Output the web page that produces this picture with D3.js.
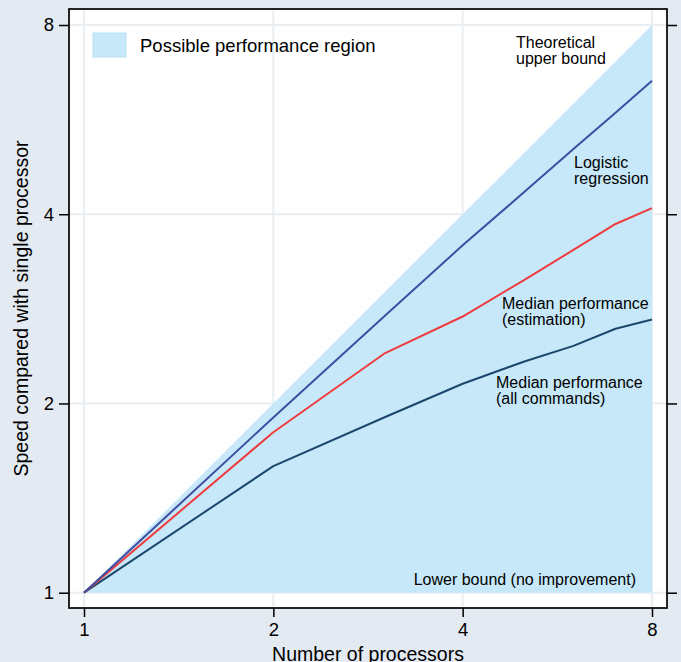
<!DOCTYPE html>
<html>
<head>
<meta charset="utf-8">
<script src="https://cdn.jsdelivr.net/npm/d3@7"></script>
<style>
  body { margin: 0; background: #e4eaf2; }
  svg { display: block; font-family: "Liberation Sans", Arial, Helvetica, sans-serif; }
</style>
</head>
<body>
<div id="chart"></div>
<script>
// Data
var processors = [1, 2, 3, 4, 5, 6, 7, 8]
var logistic = [1, 1.90, 2.75, 3.57, 4.33, 5.08, 5.80, 6.52]
var medianEstimation = [1, 1.80, 2.40, 2.75, 3.14, 3.51, 3.86, 4.09]
var medianAll = [1, 1.59, 1.90, 2.15, 2.33, 2.47, 2.63, 2.72]
var xTicks = [1, 2, 4, 8]
var yTicks = [1, 2, 4, 8]
var upperBound = [1, 8]

var width = 681
var height = 662
var frame = { left: 69, top: 9, right: 667, bottom: 608 }

var svg = d3.select("#chart")
  .append("svg")
    .attr("width", width)
    .attr("height", height)

svg.append("rect")
  .attr("width", width)
  .attr("height", height)
  .attr("fill", "#e4eaf2")

var x = d3.scaleLog().base(2)
  .domain([1, 8])
  .range([84, 652])

var y = d3.scaleLog().base(2)
  .domain([1, 8])
  .range([592.7, 25])

// Plot area
svg.append("rect")
  .attr("x", frame.left)
  .attr("y", frame.top)
  .attr("width", frame.right - frame.left)
  .attr("height", frame.bottom - frame.top)
  .attr("fill", "white")

// Grid lines
svg.append("g")
  .selectAll("line")
  .data(xTicks)
  .enter()
  .append("line")
    .attr("x1", function(d) { return x(d) })
    .attr("x2", function(d) { return x(d) })
    .attr("y1", frame.top)
    .attr("y2", frame.bottom)
    .attr("stroke", "#e8eef1")
    .attr("stroke-width", 2)

svg.append("g")
  .selectAll("line")
  .data(yTicks)
  .enter()
  .append("line")
    .attr("x1", frame.left)
    .attr("x2", frame.right)
    .attr("y1", function(d) { return y(d) })
    .attr("y2", function(d) { return y(d) })
    .attr("stroke", "#e8eef1")
    .attr("stroke-width", 2)

// Possible performance region: between upper bound (y = x) and lower bound (y = 1)
var region = [[upperBound[0], upperBound[0]], [upperBound[1], upperBound[1]], [upperBound[1], 1]]
svg.append("path")
  .datum(region)
  .attr("d", d3.line()
    .x(function(d) { return x(d[0]) })
    .y(function(d) { return y(d[1]) }))
  .attr("fill", "#c6e8f8")

// Lines
var series = [
  { values: medianAll, color: "#1c476c" },
  { values: medianEstimation, color: "#ef3b3e" },
  { values: logistic, color: "#3e4ea2" }
]

var line = d3.line()
  .x(function(d) { return x(d[0]) })
  .y(function(d) { return y(d[1]) })

series.forEach(function(s) {
  svg.append("path")
    .datum(processors.map(function(p, i) { return [p, s.values[i]] }))
    .attr("d", line)
    .attr("fill", "none")
    .attr("stroke", s.color)
    .attr("stroke-width", 2)
    .attr("stroke-linejoin", "round")
})

// Frame
svg.append("rect")
  .attr("x", frame.left)
  .attr("y", frame.top)
  .attr("width", frame.right - frame.left)
  .attr("height", frame.bottom - frame.top)
  .attr("fill", "none")
  .attr("stroke", "black")
  .attr("stroke-width", 1.7)

// Axes
var fmt = function(d) { return d }

var xAxis = svg.append("g")
  .attr("transform", "translate(0," + frame.bottom + ")")
  .call(d3.axisBottom(x).tickValues(xTicks).tickFormat(fmt).tickSize(9).tickPadding(6))

var yAxis = svg.append("g")
  .attr("transform", "translate(" + frame.left + ",0)")
  .call(d3.axisLeft(y).tickValues(yTicks).tickFormat(fmt).tickSize(10).tickPadding(5))

var yAxisRight = svg.append("g")
  .attr("transform", "translate(" + frame.right + ",0)")
  .call(d3.axisRight(y).tickValues(yTicks).tickFormat("").tickSize(10))

;[xAxis, yAxis, yAxisRight].forEach(function(a) {
  a.select(".domain").remove()
  a.selectAll(".tick line").attr("stroke", "black").attr("stroke-width", 1.5)
  a.selectAll(".tick text")
    .attr("fill", "black")
    .style("font-family", "'Liberation Sans', Arial, sans-serif")
    .style("font-size", "18.5px")
})

// Axis titles
svg.append("text")
  .attr("x", (frame.left + frame.right) / 2)
  .attr("y", 661)
  .attr("text-anchor", "middle")
  .style("font-size", "19.5px")
  .text("Number of processors")

svg.append("text")
  .attr("transform", "translate(28," + (frame.top + frame.bottom) / 2 + ") rotate(-90)")
  .attr("text-anchor", "middle")
  .style("font-size", "19.5px")
  .text("Speed compared with single processor")

// Legend
svg.append("rect")
  .attr("x", 93)
  .attr("y", 33)
  .attr("width", 33)
  .attr("height", 24)
  .attr("fill", "#c6e8f8")
  .attr("stroke", "#b8e0f3")

svg.append("text")
  .attr("x", 140)
  .attr("y", 51.5)
  .style("font-size", "18.5px")
  .text("Possible performance region")

// Annotations
var labels = [
  { x: 516, y: 48, lines: ["Theoretical", "upper bound"] },
  { x: 574, y: 168, lines: ["Logistic", "regression"] },
  { x: 502, y: 309, lines: ["Median performance", "(estimation)"] },
  { x: 496, y: 388, lines: ["Median performance", "(all commands)"] },
  { x: 636, y: 585, anchor: "end", lines: ["Lower bound (no improvement)"] }
]

labels.forEach(function(l) {
  var t = svg.append("text")
    .attr("x", l.x)
    .attr("y", l.y)
    .attr("text-anchor", l.anchor || "start")
    .style("font-size", "16px")
  l.lines.forEach(function(s, i) {
    t.append("tspan")
      .attr("x", l.x)
      .attr("dy", i === 0 ? 0 : 15.5)
      .text(s)
  })
})
</script>
</body>
</html>
